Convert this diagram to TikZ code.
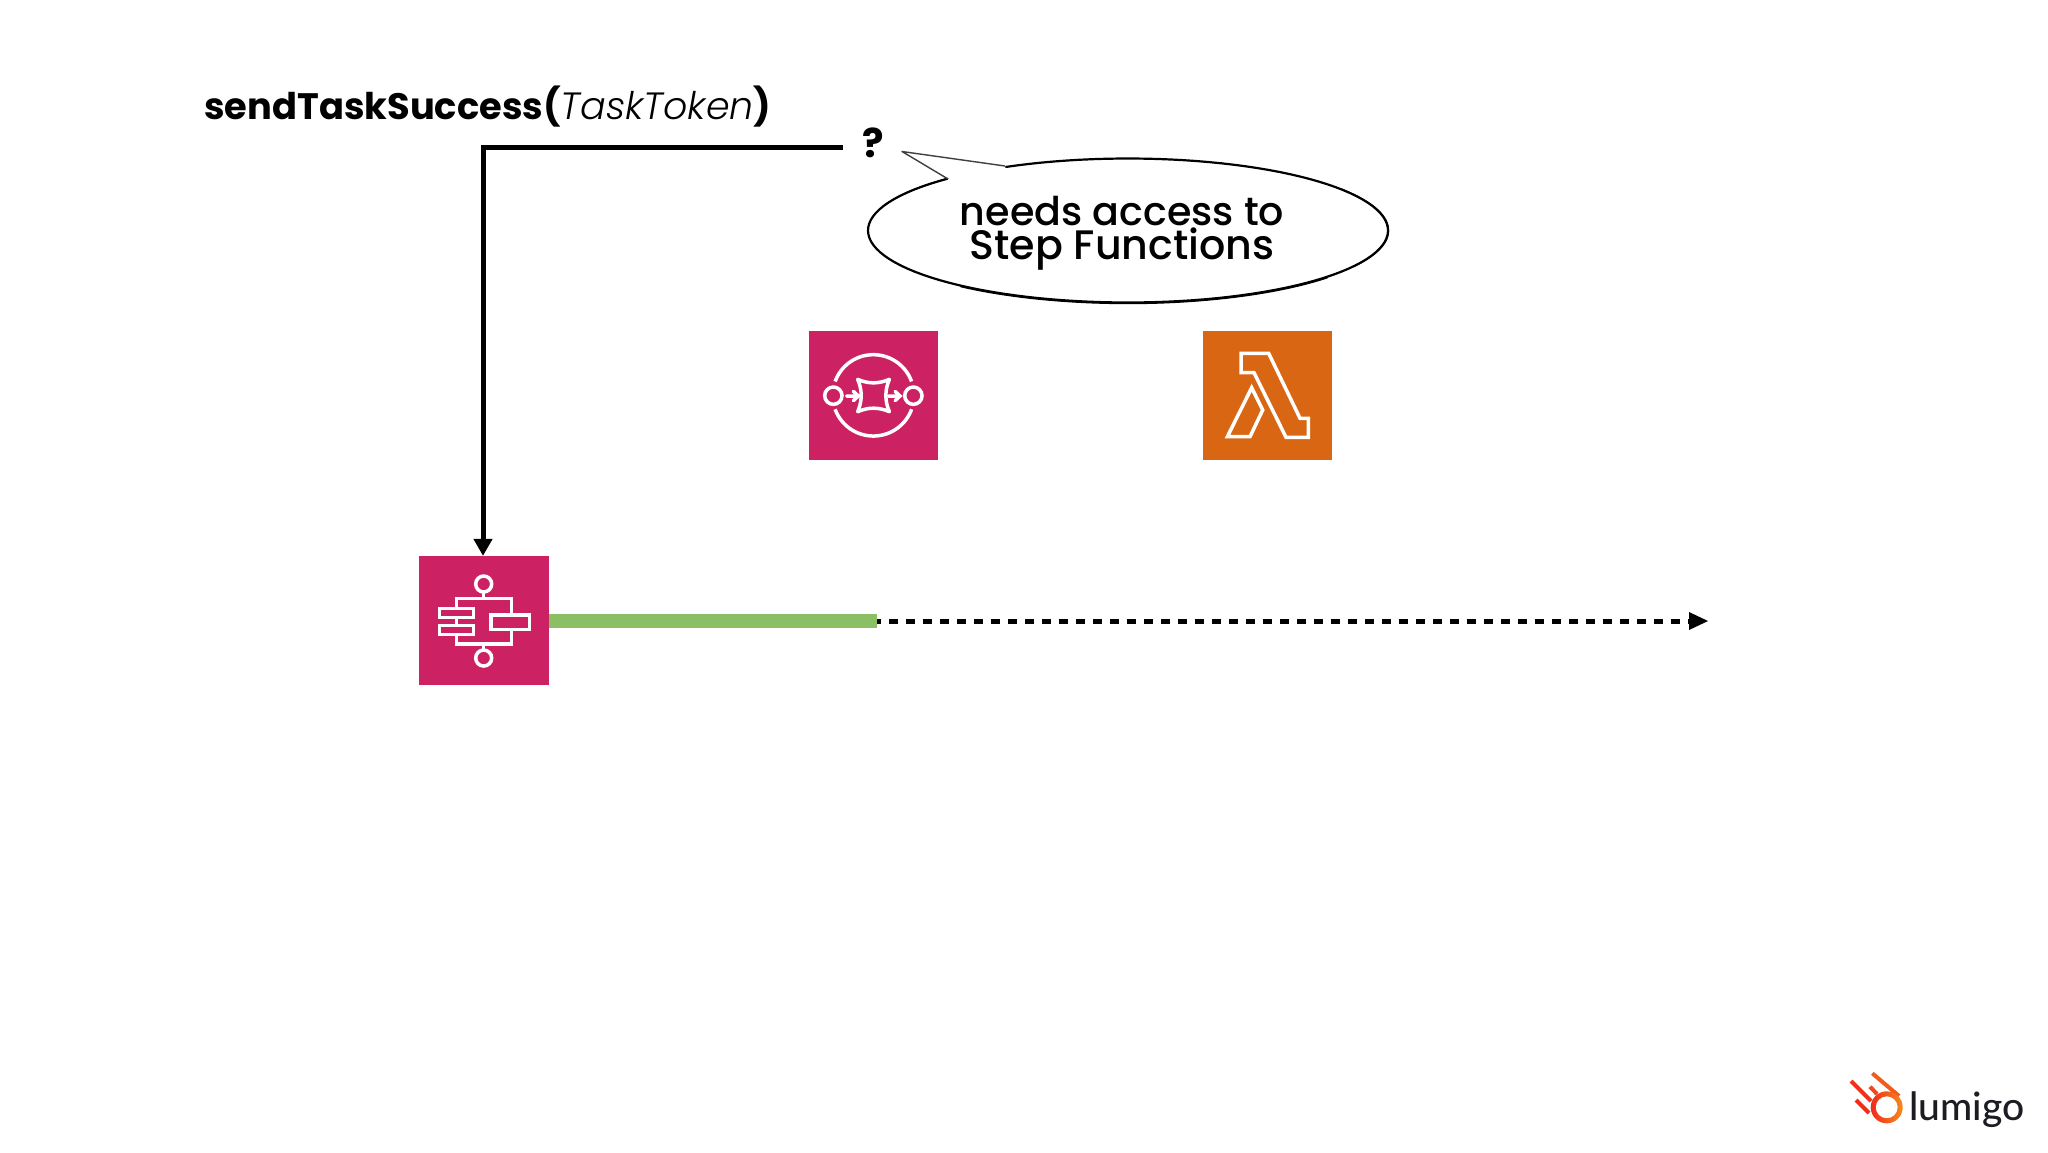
\documentclass[tikz,border=0pt]{standalone}
\usepackage{fontspec}
\usetikzlibrary{arrows.meta,calc}
\setmainfont{Poppins}
\newfontfamily\pmed{Poppins Medium}
\newfontfamily\plightit{Poppins Light Italic}
\newfontfamily\logofont{Lato Medium}
\definecolor{awspink}{HTML}{CC2264}
\definecolor{awsorange}{HTML}{D86613}
\definecolor{barGreen}{HTML}{8BBF63}
\definecolor{inkdark}{HTML}{1C1D22}
\definecolor{logoRed}{HTML}{EE2B1B}
\definecolor{logoOrange}{HTML}{F68A1E}
\tikzset{
  px/.style={x=0.5pt,y=-0.5pt},
  icon/.style={draw=none,minimum size=64.7pt,inner sep=0pt,outer sep=0pt},
  glyph/.style={draw=white,line width=1.75pt,line join=miter},
  conn/.style={draw=black,line width=2.5pt,-{Triangle[length=8.5pt,width=9pt]}},
  flow/.style={draw=barGreen,line width=6.6pt},
  wait/.style={draw=black,line width=2.5pt,dash pattern=on 4.5pt off 4pt,dash phase=2.5pt},
  bubbletext/.style={font=\pmed,align=center,text=black},
  logoline/.style={line width=2pt},
  rim/.style={line width=1.1pt,line join=round,line cap=round},
}
\begin{document}
\begin{tikzpicture}[px]
\useasboundingbox (0,0) rectangle (2048,1152);
\fill[white] (0,0) rectangle (2048,1152);

% title
\node[anchor=base west,inner sep=0pt] (title) at (204,119)
  {\fontsize{18.4}{24}\selectfont\bfseries sendTaskSuccess(\mdseries\fontsize{19}{24}\selectfont\plightit TaskToken\fontsize{18.4}{24}\selectfont\normalfont\bfseries)};

% speech bubble
\path[fill=white] plot[domain=226:-118,samples=120] ({1128+260*cos(\x)},{230.5+72*sin(\x)}) -- (902,151.5) -- cycle;
\draw[rim] plot[domain=226:-118,samples=120] ({1128+260*cos(\x)},{230.5+72*sin(\x)});
\draw[rim,line width=0.7pt] plot[domain=130:40,samples=40] ({1128+260*cos(\x)},{231.5+72*sin(\x)});
\draw[rim,line width=0.7pt] plot[domain=30:-35,samples=30] ({1128.5+260*cos(\x)},{230.5+72*sin(\x)});
\draw[rim,line width=0.7pt] plot[domain=226:200,samples=20] ({1128+260*cos(\x)},{230.5+72*sin(\x)});
\draw[line width=0.7pt,draw=black!75,line join=round] (1005,166) -- (902,151.5) -- (948,179);
\node[bubbletext] (bubble) at (1122,233) {\fontsize{19.8}{23.5}\selectfont needs access to\\\fontsize{20.6}{23.5}\selectfont Step Functions};
\node[inner sep=0pt,font=\bfseries\fontsize{20}{24}\selectfont] (q) at (873,143) {?};

% icons
\node[icon,fill=awspink] (sqs) at (873.5,395.3) {};
\node[icon,fill=awsorange] (lambda) at (1267.3,395.3) {};
\node[icon,fill=awspink] (sfn) at (484,620.6) {};

% SQS glyph
\begin{scope}[shift={(790,320)},x=0.1667pt,y=-0.1667pt]
  \draw[glyph] plot[domain=160:20,samples=40] ({250+122*cos(\x)},{226-122*sin(\x)});
  \draw[glyph] plot[domain=-160:-20,samples=40] ({250+122*cos(\x)},{226-122*sin(\x)});
  \draw[glyph] (130,227) circle[radius=26];
  \draw[glyph] (370,227) circle[radius=26];
  \draw[glyph,line cap=round] (170,228) -- (205,228) (190,214) -- (205,228) -- (190,242);
  \draw[glyph,line cap=round] (295,228) -- (330,228) (315,214) -- (330,228) -- (315,242);
  \draw[glyph,line join=round] (203,178) .. controls (235,192) and (266,192) .. (298,178)
    .. controls (284,210) and (284,243) .. (298,275)
    .. controls (266,261) and (235,261) .. (203,275)
    .. controls (217,243) and (217,210) .. (203,178) -- cycle;
\end{scope}

% Lambda glyph
\begin{scope}[shift={(1190,320)},x=0.1667pt,y=-0.1667pt]
  \draw[glyph] (153,100) -- (236,100) -- (330,295) -- (355,295) -- (355,352) -- (288,352) -- (192,158) -- (153,158) -- cycle;
  \draw[glyph] (185,203) -- (218,270) -- (180,350) -- (112,350) -- cycle;
\end{scope}

% Step Functions glyph
\begin{scope}[shift={(410,530)},x=0.1667pt,y=-0.1667pt]
  \draw[glyph] (221,162) circle[radius=24];
  \draw[glyph] (221,384) circle[radius=24];
  \draw[glyph] (221,186) -- (221,205);
  \draw[glyph] (221,342) -- (221,360);
  \draw[glyph] (140,235) -- (140,205) -- (305,205) -- (305,255);
  \draw[glyph] (140,314) -- (140,342) -- (305,342) -- (305,298);
  \draw[glyph] (140,262) -- (140,287);
  \draw[glyph] (88,235) rectangle (190,262);
  \draw[glyph] (88,287) rectangle (190,314);
  \draw[glyph] (243,255) rectangle (358,298);
\end{scope}

% connectors
\coordinate (lstart) at (843,147);
\coordinate (ltarget) at ([xshift=-0.5pt]sfn.north);
\draw[conn] (lstart) -| (ltarget);
\coordinate (greenend) at (877,621);
\coordinate (tiptail) at (1689,621);
\draw[wait] (greenend) -- (tiptail);
\draw[flow] (sfn.east |- greenend) -- (greenend);
\fill[black] (1689,612) -- (1708,621) -- (1689,630) -- cycle;

% logo
\draw[logoline,draw=logoRed!90!orange] (1851,1081) -- (1871,1101);
\draw[logoline,draw=logoRed!95!orange] (1856,1100) -- (1869,1113);
\draw[logoline,draw=logoRed!70!logoOrange] (1870,1086.7) -- (1877,1094);
\draw[logoline,draw=logoRed!50!logoOrange] (1872.3,1073.3) -- (1899,1096);
\shade[left color=logoRed,right color=logoOrange,even odd rule] (1886.7,1107.3) circle[radius=16] (1886.7,1107.3) circle[radius=11];
\node[anchor=base west,inner sep=0pt,text=inkdark,font=\logofont\fontsize{19.5}{22}\selectfont] (logo) at (1909,1120) {lumigo};
\end{tikzpicture}
\end{document}
